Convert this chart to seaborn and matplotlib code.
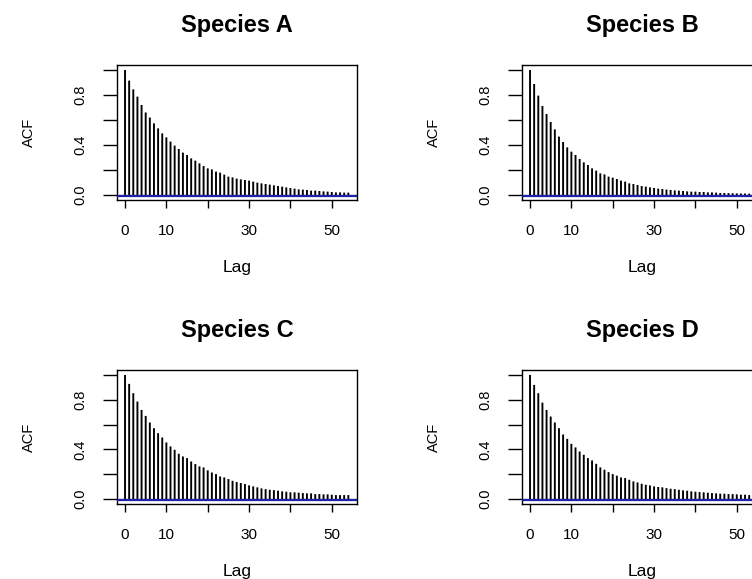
import numpy as np
import pandas as pd
import matplotlib
matplotlib.use("Agg")
import matplotlib.pyplot as plt
import seaborn as sns

sns.set_theme(style="white")
plt.rcParams['font.family'] = ['Liberation Sans', 'DejaVu Sans']
plt.rcParams['text.color'] = 'black'
plt.rcParams['axes.labelcolor'] = 'black'
plt.rcParams['xtick.color'] = 'black'
plt.rcParams['ytick.color'] = 'black'

titles = ["Species A", "Species B", "Species C", "Species D"]
lags = list(range(55))

acf_a = [1.0, 0.915, 0.845, 0.787, 0.72, 0.66, 0.62, 0.573, 0.533, 0.493,
         0.461, 0.427, 0.395, 0.368, 0.339, 0.32, 0.293, 0.275, 0.253, 0.232,
         0.213, 0.205, 0.187, 0.179, 0.163, 0.147, 0.141, 0.131, 0.125, 0.12,
         0.115, 0.107, 0.099, 0.093, 0.088, 0.083, 0.077, 0.072, 0.067, 0.061,
         0.056, 0.051, 0.045, 0.043, 0.04, 0.035, 0.035, 0.032, 0.029, 0.027,
         0.024, 0.021, 0.021, 0.019, 0.019]
acf_b = [1.0, 0.888, 0.795, 0.712, 0.648, 0.584, 0.525, 0.467, 0.424, 0.381,
         0.347, 0.32, 0.288, 0.261, 0.24, 0.213, 0.195, 0.173, 0.165, 0.147,
         0.139, 0.128, 0.115, 0.107, 0.093, 0.088, 0.08, 0.072, 0.067, 0.061,
         0.056, 0.051, 0.048, 0.043, 0.04, 0.037, 0.035, 0.032, 0.029, 0.027,
         0.027, 0.024, 0.024, 0.021, 0.021, 0.019, 0.016, 0.016, 0.015, 0.014,
         0.013, 0.012, 0.012, 0.011, 0.01]
acf_c = [1.0, 0.928, 0.853, 0.786, 0.718, 0.67, 0.617, 0.571, 0.531, 0.496,
         0.456, 0.424, 0.397, 0.365, 0.343, 0.33, 0.303, 0.282, 0.263, 0.255,
         0.231, 0.214, 0.201, 0.182, 0.174, 0.161, 0.147, 0.137, 0.129, 0.121,
         0.11, 0.102, 0.094, 0.086, 0.08, 0.075, 0.072, 0.067, 0.062, 0.059,
         0.054, 0.054, 0.051, 0.048, 0.046, 0.046, 0.04, 0.04, 0.038, 0.038,
         0.035, 0.032, 0.032, 0.032, 0.032]
acf_d = [1.0, 0.92, 0.853, 0.777, 0.718, 0.665, 0.617, 0.571, 0.52, 0.485,
         0.445, 0.416, 0.383, 0.357, 0.33, 0.311, 0.284, 0.255, 0.236, 0.217,
         0.201, 0.188, 0.174, 0.169, 0.155, 0.142, 0.134, 0.123, 0.115, 0.11,
         0.102, 0.097, 0.094, 0.088, 0.083, 0.08, 0.075, 0.07, 0.067, 0.062,
         0.059, 0.056, 0.054, 0.051, 0.048, 0.046, 0.043, 0.043, 0.04, 0.04,
         0.038, 0.035, 0.035, 0.032, 0.032]
series = [acf_a, acf_b, acf_c, acf_d]

x_ticks = [0, 10, 20, 30, 40, 50]
x_tick_labels = ["0", "10", "", "30", "", "50"]
y_ticks = [0.0, 0.2, 0.4, 0.6, 0.8, 1.0]
y_tick_labels = ["0.0", "", "0.4", "", "0.8", ""]
ci = 0.004

W, H = 752, 579
fig = plt.figure(figsize=(W / 100, H / 100), dpi=100)
fig.patch.set_facecolor("white")

# (left, top, right, bottom) in pixels
boxes = [(117, 65, 357, 200), (522, 65, 762, 200),
         (117, 370, 357, 504), (522, 370, 762, 504)]

for title, vals, (l, t, r, b) in zip(titles, series, boxes):
    ax = fig.add_axes([l / W, 1 - b / H, (r - l) / W, (b - t) / H])
    df = pd.DataFrame({"lag": lags, "acf": vals})
    sns.barplot(data=df, x="lag", y="acf", native_scale=True, width=0.46,
                color="black", linewidth=0, errorbar=None, ax=ax)
    for p in ax.patches:
        p.set_antialiased(True)
        p.set_snap(False)
    ax.axhline(0, color="black", lw=0.8, zorder=3)
    ax.axhline(ci, color="#2020a8", lw=0.9, zorder=4)
    ax.axhline(-ci, color="#2020a8", lw=0.9, zorder=4)
    ax.set_xlim(-1.94, 56.1)
    ax.set_ylim(-0.04, 1.04)
    ax.set_xticks(x_ticks)
    ax.set_xticklabels(x_tick_labels, fontsize=11)
    ax.set_yticks(y_ticks)
    ax.set_yticklabels(y_tick_labels, fontsize=10.5, rotation=90, va="center")
    ax.tick_params(axis="x", direction="out", length=6, width=1, pad=11,
                   color="black", bottom=True)
    ax.tick_params(axis="y", direction="out", length=10, width=1, pad=11,
                   color="black", left=True)
    for s in ax.spines.values():
        s.set_color("black")
        s.set_linewidth(1.0)
        s.set_visible(True)
    ax.set_xlabel("Lag", fontsize=12.5, labelpad=16)
    ax.set_ylabel("ACF", fontsize=10.5, labelpad=27)
    ax.set_title(title, fontsize=17, fontweight="bold", pad=24)
    ax.grid(False)
    ax.set_facecolor("white")

fig.savefig("out.png", dpi=100, facecolor="white")
